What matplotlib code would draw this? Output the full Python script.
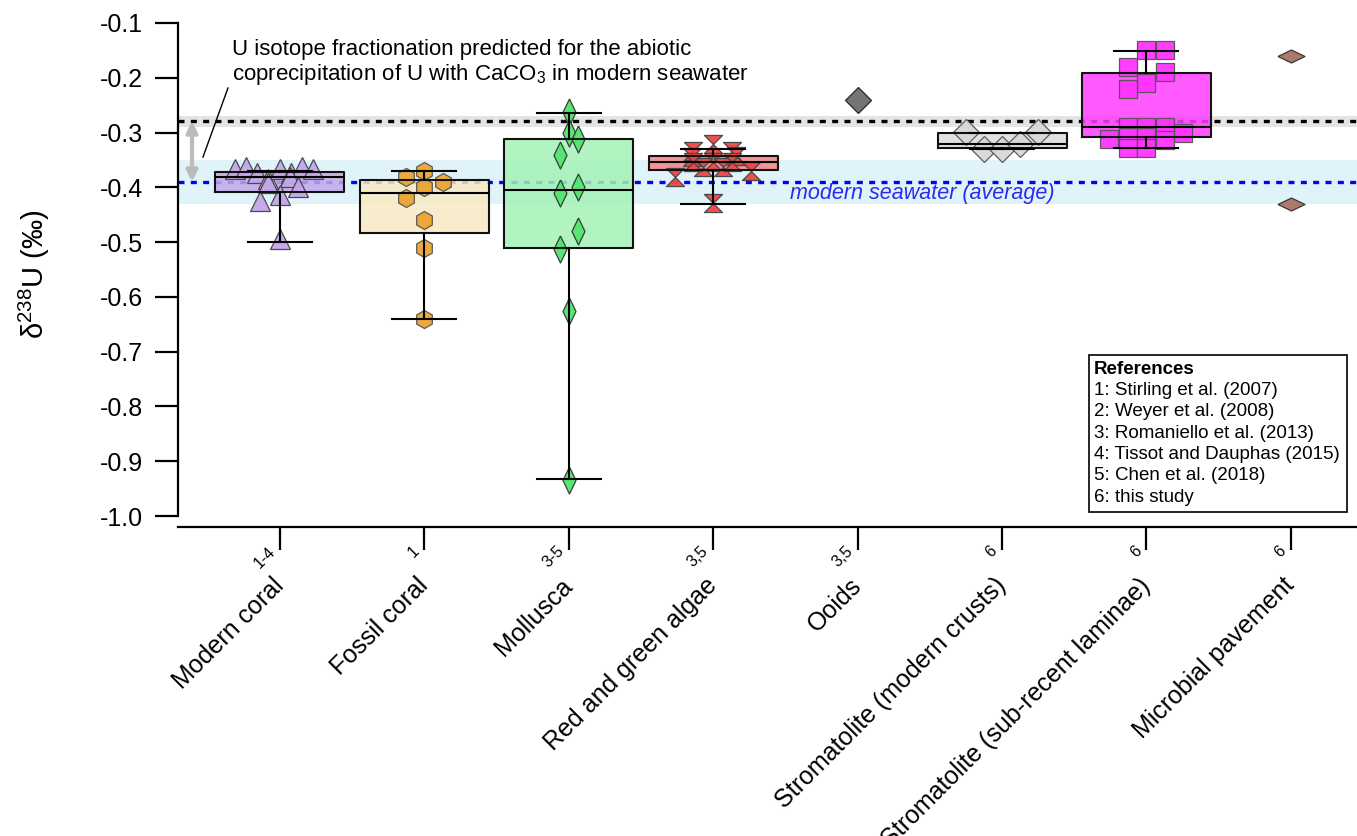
import numpy as np
import matplotlib
matplotlib.use("Agg")
import matplotlib.pyplot as plt
from matplotlib.patches import Rectangle

plt.rcParams["font.family"] = ["Liberation Sans", "DejaVu Sans"]
plt.rcParams["mathtext.fontset"] = "custom"
plt.rcParams["mathtext.rm"] = "Liberation Sans"
plt.rcParams["mathtext.it"] = "Liberation Sans:italic"
plt.rcParams["axes.unicode_minus"] = False

# categories and reference numbers
categories = ["Modern coral", "Fossil coral", "Mollusca", "Red and green algae", "Ooids",
              "Stromatolite (modern crusts)", "Stromatolite (sub-recent laminae)",
              "Microbial pavement"]
refs = ["1-4", "1", "3-5", "3,5", "3,5", "6", "6", "6"]

# box statistics (whislo, q1, med, q3, whishi)
box_pos = [0, 1, 2, 3, 5, 6]
box_whislo = [-0.500, -0.641, -0.933, -0.431, -0.330, -0.329]
box_q1 = [-0.409, -0.484, -0.5115, -0.368, -0.329, -0.308]
box_med = [-0.382, -0.410, -0.404, -0.354, -0.321, -0.289]
box_q3 = [-0.3715, -0.387, -0.312, -0.342, -0.3015, -0.191]
box_whishi = [-0.370, -0.370, -0.264, -0.330, -0.300, -0.151]
box_colors = ["#c3a8ea", "#f6eac4", "#a4f2b6", "#f28282", "#dcdcdc", "#ff3cff"]

# individual samples: (offset from category, value)
modern_coral_dx = [-0.31, -0.235, -0.16, -0.083, 0.0, 0.076, 0.152, 0.229, 0.07, 0.125, -0.14, 0.0, 0.0, -0.083]
modern_coral = [-0.366, -0.363, -0.374, -0.385, -0.366, -0.374, -0.363, -0.366, -0.381, -0.400, -0.425, -0.414, -0.495, -0.393]

fossil_coral_dx = [-0.13, 0.0, 0.0, 0.13, -0.13, 0.0, 0.0, 0.0]
fossil_coral = [-0.381, -0.370, -0.400, -0.390, -0.420, -0.460, -0.510, -0.641]

mollusca_dx = [0.0, 0.0, 0.065, -0.062, -0.062, 0.065, 0.065, -0.062, 0.0, 0.0]
mollusca = [-0.262, -0.301, -0.311, -0.341, -0.410, -0.400, -0.480, -0.513, -0.626, -0.935]

algae_dx = [0.0, -0.139, 0.128, -0.149, 0.159, 0.0, -0.069, 0.069, -0.263, 0.263, 0.0, -0.139, 0.128]
algae = [-0.321, -0.333, -0.333, -0.344, -0.343, -0.353, -0.362, -0.362, -0.381, -0.370, -0.429, -0.353, -0.353]

ooids_dx = [0.0]
ooids = [-0.240]

strom_modern_dx = [-0.25, -0.125, 0.0, 0.125, 0.25]
strom_modern = [-0.2985, -0.330, -0.330, -0.320, -0.2985]

strom_sub_dx = [0.0, 0.13, -0.13, 0.13, 0.0, -0.13, -0.13, 0.0, 0.13, 0.25, -0.26, -0.13, 0.0, 0.13, -0.13, 0.0]
strom_sub = [-0.150, -0.150, -0.181, -0.190, -0.210, -0.221, -0.290, -0.290, -0.290, -0.300,
             -0.311, -0.308, -0.308, -0.314, -0.329, -0.329]

microbial_dx = [0.0, 0.0]
microbial = [-0.160, -0.430]

# reference levels
seawater = -0.39
seawater_band = (-0.43, -0.35)
abiotic = -0.279
abiotic_band = (-0.29, -0.27)

ref_list = ["1: Stirling et al. (2007)", "2: Weyer et al. (2008)",
            "3: Romaniello et al. (2013)", "4: Tissot and Dauphas (2015)",
            "5: Chen et al. (2018)", "6: this study"]

W, H = 1357, 836
fig = plt.figure(figsize=(W / 100, H / 100), dpi=100)
ax = fig.add_axes([178 / W, 1 - 516 / H, (W - 178) / W, (516 - 23) / H])

ax.set_xlim(-0.706, 7.458)
ax.set_ylim(-1.0, -0.1)

# bands and reference lines
ax.axhspan(*seawater_band, color="#dff3f9", lw=0, zorder=0.5)
ax.axhspan(*abiotic_band, color="#e4e4e4", lw=0, zorder=0.5)
ax.axhline(abiotic, color="black", lw=2.4, dashes=(1.8, 1.9), dash_capstyle="butt", zorder=1)
ax.axhline(seawater, color="#0000ff", lw=2.4, dashes=(1.8, 1.9), dash_capstyle="butt", zorder=1)

# boxes: fill below the points, outlines above
stats = []
for lo, q1, md, q3, hi in zip(box_whislo, box_q1, box_med, box_q3, box_whishi):
    stats.append(dict(whislo=lo, q1=q1, med=md, q3=q3, whishi=hi, fliers=[]))

fills = ax.bxp(stats, positions=box_pos, widths=0.893, patch_artist=True, showcaps=False,
               boxprops=dict(edgecolor="none"), whiskerprops=dict(visible=False),
               medianprops=dict(visible=False), zorder=2, manage_ticks=False)
for patch, c in zip(fills["boxes"], box_colors):
    patch.set_facecolor(c)
    patch.set_alpha(0.85)

ax.bxp(stats, positions=box_pos, widths=0.893, capwidths=0.443, patch_artist=False,
       boxprops=dict(color="#111111", lw=1.5), whiskerprops=dict(color="black", lw=1.5),
       capprops=dict(color="black", lw=1.5), medianprops=dict(color="black", lw=1.5),
       zorder=4, manage_ticks=False)

# marker shapes
bowtie = [(-1, 1), (1, 1), (0, 0), (1, -1), (-1, -1), (0, 0), (-1, 1)]
thin_diamond = [(0, 1), (0.48, 0), (0, -1), (-0.48, 0), (0, 1)]
flat_diamond = [(-1, 0), (0, 0.48), (1, 0), (0, -0.48), (-1, 0)]

groups = [
    (0, modern_coral_dx, modern_coral, "^", 15, "#c4a6ea", "#444444"),
    (1, fossil_coral_dx, fossil_coral, "h", 13, "#eba532", "#555555"),
    (2, mollusca_dx, mollusca, thin_diamond, 19.5, "#52e46e", "#333333"),
    (3, algae_dx, algae, bowtie, 13, "#f04545", "#444444"),
    (4, ooids_dx, ooids, "D", 13.5, "#6c6c6c", "#222222"),
    (5, strom_modern_dx, strom_modern, "D", 13, "#d8d8d8", "#555555"),
    (6, strom_sub_dx, strom_sub, "s", 13, "#ff33ff", "#555555"),
    (7, microbial_dx, microbial, flat_diamond, 19.5, "#a97361", "#333333"),
]
for xc, dx, vals, mk, ms, fc, ec in groups:
    ax.plot(xc + np.array(dx), vals, ls="none", marker=mk, ms=ms, mfc=fc, mec=ec,
            mew=0.9, alpha=0.95, zorder=3, clip_on=False)

# axes styling
for s in ["top", "right"]:
    ax.spines[s].set_visible(False)
ax.spines["left"].set_linewidth(1.6)
ax.spines["bottom"].set_linewidth(1.6)
ax.spines["bottom"].set_position(("outward", 8))

yt = np.round(np.arange(-1.0, -0.05, 0.1), 1)
ax.set_yticks(yt)
ax.set_yticklabels([f"{v:.1f}" for v in yt])
ax.tick_params(axis="y", length=16.5, width=1.6, pad=8.5, labelsize=18)
ax.set_xticks(range(len(categories)))
ax.set_xticklabels(categories, rotation=45, ha="right", va="center", rotation_mode="anchor")
ax.tick_params(axis="x", length=16.5, width=1.6, pad=23, labelsize=18)

for i, r in enumerate(refs):
    ax.annotate(r, xy=(i, 0), xycoords=("data", "axes fraction"), xytext=(-3, -26),
                textcoords="offset points", rotation=45, ha="right", va="baseline",
                rotation_mode="anchor", fontsize=11.5, annotation_clip=False)

ax.set_ylabel("δ$^{238}$U (‰)", fontsize=21)
ax.yaxis.set_label_coords((52 - 178) / (W - 178), 0.49)

# annotations
ax.text(3.53, -0.412, "modern seawater (average)", color="#2b2bf0", fontsize=15.5,
        style="italic", va="center", ha="left", zorder=5)
ax.text(-0.332, -0.129, "U isotope fractionation predicted for the abiotic\n"
        "coprecipitation of U with CaCO$_3$ in modern seawater",
        fontsize=16, va="top", ha="left", linespacing=1.1, zorder=5)
ax.plot([-0.360, -0.533], [-0.2187, -0.3447], color="black", lw=1.0, zorder=5)
ax.annotate("", xy=(-0.609, seawater), xytext=(-0.609, abiotic),
            arrowprops=dict(arrowstyle="<|-|>", color="#bbbbbb", lw=3,
                            mutation_scale=16, shrinkA=0, shrinkB=0), zorder=5)

# references box
fig.patches.append(Rectangle((1089 / W, 1 - 512 / H), (1347 - 1089) / W, (512 - 355) / H,
                             transform=fig.transFigure, fill=True, facecolor="white",
                             edgecolor="black", lw=1.2, zorder=10))
fig.text(1094 / W, 1 - 369 / H, "References", fontsize=13.5, fontweight="bold",
         va="center", ha="left", zorder=11)
for k, line in enumerate(ref_list):
    fig.text(1094 / W, 1 - (390.5 + k * 21.3) / H, line, fontsize=13.5,
             va="center", ha="left", zorder=11)

fig.savefig("out.png", dpi=100)
